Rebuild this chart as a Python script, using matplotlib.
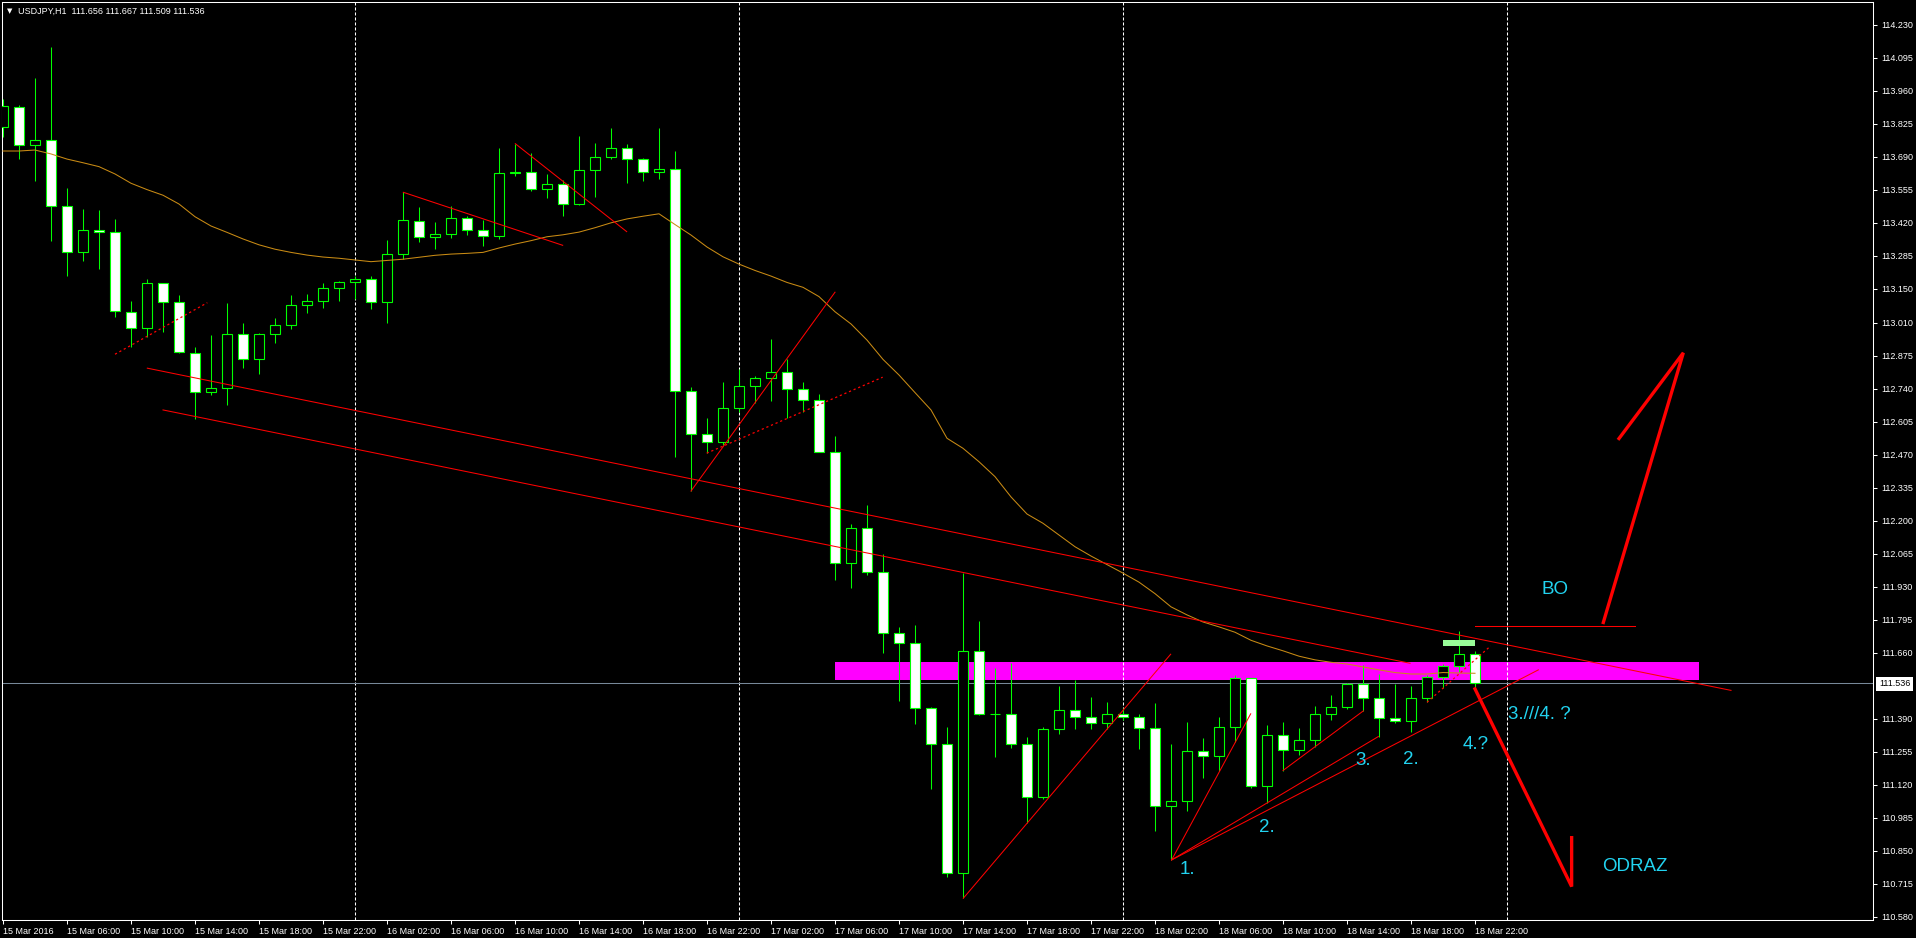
import numpy as np
import matplotlib
matplotlib.use('Agg')
import matplotlib.pyplot as plt
from matplotlib.patches import Rectangle

plt.rcParams['font.family'] = ['Liberation Sans', 'DejaVu Sans']
plt.rcParams['lines.scale_dashes'] = False

# USDJPY H1, bars from 15 Mar 2016 02:00 (bar 0) to 18 Mar 22:00 (bar 92)
open_ = [113.813, 113.893, 113.737, 113.758, 113.488, 113.299, 113.389, 113.381, 113.054, 112.988,
         113.173, 113.095, 112.886, 112.726, 112.743, 112.964, 112.861, 112.964, 113.001, 113.082,
         113.099, 113.152, 113.177, 113.189, 113.095, 113.291, 113.426, 113.361, 113.373, 113.439,
         113.392, 113.365, 113.623, 113.627, 113.557, 113.578, 113.496, 113.635, 113.688, 113.725,
         113.680, 113.627, 113.639, 112.730, 112.556, 112.524, 112.662, 112.752, 112.785, 112.808,
         112.741, 112.696, 112.483, 112.026, 112.170, 111.990, 111.740, 111.699, 111.433, 111.286,
         110.758, 111.666, 111.408, 111.411, 111.286, 111.069, 111.347, 111.425, 111.396, 111.372,
         111.408, 111.396, 111.351, 111.032, 111.052, 111.257, 111.237, 111.355, 111.556, 111.114,
         111.322, 111.261, 111.302, 111.408, 111.437, 111.531, 111.474, 111.392, 111.380, 111.474,
         111.560, 111.605, 111.656]
high_ = [113.926, 113.901, 114.013, 114.141, 113.561, 113.477, 113.472, 113.436, 113.100, 113.190,
         113.175, 113.123, 112.912, 112.961, 113.091, 113.009, 112.968, 113.030, 113.123, 113.127,
         113.173, 113.181, 113.201, 113.201, 113.348, 113.545, 113.485, 113.423, 113.488, 113.448,
         113.432, 113.725, 113.744, 113.705, 113.620, 113.595, 113.775, 113.747, 113.808, 113.743,
         113.684, 113.808, 113.714, 112.748, 112.622, 112.769, 112.823, 112.793, 112.944, 112.861,
         112.769, 112.718, 112.548, 112.187, 112.265, 112.065, 111.766, 111.774, 111.440, 111.356,
         111.988, 111.790, 111.598, 111.617, 111.316, 111.355, 111.524, 111.550, 111.479, 111.459,
         111.434, 111.408, 111.455, 111.287, 111.377, 111.311, 111.397, 111.568, 111.558, 111.363,
         111.377, 111.351, 111.441, 111.487, 111.535, 111.609, 111.573, 111.531, 111.524, 111.568,
         111.614, 111.749, 111.667]
low_ = [113.770, 113.682, 113.592, 113.347, 113.204, 113.265, 113.232, 113.033, 112.913, 112.954,
        112.974, 112.888, 112.618, 112.715, 112.676, 112.827, 112.802, 112.929, 112.984, 113.052,
        113.073, 113.101, 113.109, 113.069, 113.011, 113.271, 113.343, 113.314, 113.359, 113.371,
        113.326, 113.353, 113.613, 113.552, 113.523, 113.449, 113.494, 113.527, 113.680, 113.584,
        113.592, 113.601, 112.463, 112.322, 112.477, 112.511, 112.646, 112.681, 112.691, 112.620,
        112.645, 112.481, 111.958, 111.927, 111.980, 111.661, 111.463, 111.370, 111.104, 110.744,
        110.655, 111.406, 111.235, 111.272, 110.965, 111.061, 111.329, 111.349, 111.349, 111.349,
        111.385, 111.264, 110.932, 110.812, 111.011, 111.149, 111.175, 111.294, 111.106, 111.044,
        111.178, 111.243, 111.276, 111.386, 111.431, 111.422, 111.317, 111.374, 111.335, 111.457,
        111.515, 111.580, 111.509]
close_ = [113.898, 113.737, 113.758, 113.488, 113.299, 113.389, 113.381, 113.058, 112.988, 113.173,
          113.095, 112.890, 112.726, 112.743, 112.964, 112.861, 112.964, 113.001, 113.082, 113.099,
          113.152, 113.177, 113.189, 113.095, 113.291, 113.430, 113.361, 113.373, 113.439, 113.392,
          113.365, 113.623, 113.627, 113.557, 113.578, 113.496, 113.635, 113.688, 113.725, 113.680,
          113.627, 113.639, 112.730, 112.556, 112.524, 112.662, 112.752, 112.785, 112.808, 112.741,
          112.696, 112.483, 112.026, 112.170, 111.990, 111.740, 111.699, 111.433, 111.286, 110.758,
          111.666, 111.408, 111.411, 111.286, 111.069, 111.347, 111.425, 111.396, 111.372, 111.408,
          111.396, 111.351, 111.032, 111.052, 111.257, 111.237, 111.355, 111.556, 111.114, 111.322,
          111.261, 111.302, 111.408, 111.437, 111.531, 111.474, 111.392, 111.380, 111.474, 111.560,
          111.605, 111.656, 111.536]
ma = [113.714, 113.714, 113.718, 113.702, 113.681, 113.666, 113.650, 113.620, 113.582, 113.556,
      113.533, 113.497, 113.445, 113.407, 113.381, 113.354, 113.330, 113.312, 113.299, 113.288,
      113.280, 113.275, 113.268, 113.261, 113.266, 113.271, 113.279, 113.287, 113.292, 113.295,
      113.299, 113.317, 113.333, 113.347, 113.363, 113.371, 113.382, 113.400, 113.420, 113.436,
      113.447, 113.457, 113.413, 113.370, 113.321, 113.281, 113.251, 113.225, 113.202, 113.176,
      113.156, 113.118, 113.056, 113.006, 112.940, 112.861, 112.797, 112.725, 112.654, 112.538,
      112.497, 112.442, 112.381, 112.298, 112.228, 112.190, 112.142, 112.094, 112.056, 112.021,
      111.986, 111.949, 111.902, 111.848, 111.815, 111.786, 111.766, 111.744, 111.711, 111.688,
      111.668, 111.646, 111.631, 111.621, 111.614, 111.602, 111.590, 111.579, 111.573, 111.573,
      111.579, 111.577, 111.576]

last_price = 111.536
day_breaks = [22, 46, 70, 94]

x_tick_bars = list(range(0, 93, 4))
x_tick_labels = ['15 Mar 2016', '15 Mar 06:00', '15 Mar 10:00', '15 Mar 14:00', '15 Mar 18:00',
                 '15 Mar 22:00', '16 Mar 02:00', '16 Mar 06:00', '16 Mar 10:00', '16 Mar 14:00',
                 '16 Mar 18:00', '16 Mar 22:00', '17 Mar 02:00', '17 Mar 06:00', '17 Mar 10:00',
                 '17 Mar 14:00', '17 Mar 18:00', '17 Mar 22:00', '18 Mar 02:00', '18 Mar 06:00',
                 '18 Mar 10:00', '18 Mar 14:00', '18 Mar 18:00', '18 Mar 22:00']
y_ticks = [114.230, 114.095, 113.960, 113.825, 113.690, 113.555, 113.420, 113.285, 113.150,
           113.010, 112.875, 112.740, 112.605, 112.470, 112.335, 112.200, 112.065, 111.930,
           111.795, 111.660, 111.390, 111.255, 111.120, 110.985, 110.850, 110.715, 110.580]

# drawn objects, (bar, price)
solid_lines = [
    [(9.02, 112.825), (108.0, 111.506)],    # channel upper
    [(10.0, 112.654), (87.94, 111.617)],    # channel lower
    [(25.02, 113.545), (34.98, 113.328)],
    [(32.02, 113.744), (38.98, 113.384)],
    [(43.0, 112.322), (52.0, 113.136)],
    [(60.02, 110.655), (72.98, 111.654)],
    [(73.04, 110.812), (77.98, 111.410)],
    [(73.04, 110.812), (85.96, 111.317)],
    [(73.04, 110.812), (95.96, 111.590)],
    [(80.0, 111.178), (85.02, 111.422)],
    [(92.0, 111.769), (102.0, 111.769)],    # BO level
]
dotted_lines = [
    [(7.0, 112.882), (12.77, 113.093)],
    [(43.98, 112.477), (54.98, 112.788)],
    [(89.0, 111.457), (92.98, 111.688)],
]
arrow_up = [(100.02, 111.784), (105.02, 112.888), (101.0, 112.537)]
arrow_down = [(92.0, 111.512), (98.04, 110.703), (98.04, 110.903)]
zone_magenta = (52.0, 106.0, 111.549, 111.622)
zone_green = (90.0, 92.0, 111.689, 111.712)

labels = [
    ('1.', 73.56, 110.755),
    ('2.', 78.52, 110.925),
    ('3.', 84.54, 111.201),
    ('2.', 87.52, 111.204),
    ('4.?', 91.21, 111.265),
    ('3.///4. ?', 94.06, 111.389),
    ('BO', 96.17, 111.901),
    ('ODRAZ', 99.92, 110.767),
]

W, H = 1916, 938
fig = plt.figure(figsize=(W / 100, H / 100), dpi=100, facecolor='black')
ax = fig.add_axes([2 / W, 18 / H, 1871 / W, 918 / H], facecolor='black')
ax.set_xlim(-0.0625, 116.875)
ax.set_ylim(110.566, 114.324)

green = '#00ff00'
x = np.arange(len(close_))
o, h, l, c = map(np.array, (open_, high_, low_, close_))
up = c >= o

# zones
m0, m1, p0, p1 = zone_magenta
ax.add_patch(Rectangle((m0, p0), m1 - m0, p1 - p0, color='#ff00ff', lw=0, zorder=1))

for b in day_breaks:
    ax.axvline(b, color='white', lw=0.75, dashes=(2.2, 1.4), zorder=1.5)
ax.axhline(last_price, color='#778899', lw=0.75, zorder=1.5)

# candles
ax.vlines(x, l, h, color=green, lw=0.75, zorder=2)
ax.bar(x, np.abs(c - o), bottom=np.minimum(o, c), width=0.6,
       color=np.where(up, 'black', 'white'), edgecolor=green, linewidth=0.8, zorder=3)

ax.plot(x, ma, color='#c98b14', lw=0.75, zorder=4)

for seg in solid_lines:
    xs, ys = zip(*seg)
    ax.plot(xs, ys, color='red', lw=0.75, zorder=5)
for seg in dotted_lines:
    xs, ys = zip(*seg)
    ax.plot(xs, ys, color='red', lw=0.9, dashes=(1.6, 2.0), zorder=5)
for arr in (arrow_up, arrow_down):
    xs, ys = zip(*arr)
    ax.plot(xs, ys, color='red', lw=2.4, zorder=6, solid_joinstyle='miter')

g0, g1, q0, q1 = zone_green
ax.add_patch(Rectangle((g0, q0), g1 - g0, q1 - q0, color='#98fb98', lw=0, zorder=4.5))

for txt, bx, py in labels:
    ax.text(bx, py, txt, color='#22d3f0', fontsize=13.5, ha='left', va='baseline', zorder=7)

# axes styling
for s in ax.spines.values():
    s.set_color('white')
    s.set_linewidth(0.75)
ax.yaxis.tick_right()
ax.set_yticks(y_ticks)
ax.set_yticklabels([f'{v:.3f}' for v in y_ticks])
ax.set_xticks(x_tick_bars)
ax.set_xticklabels(x_tick_labels)
for t in ax.get_xticklabels():
    t.set_ha('left')
ax.tick_params(axis='y', colors='white', length=3, width=0.75, pad=3, labelsize=6.5)
ax.tick_params(axis='x', colors='white', length=3, width=0.75, pad=2, labelsize=6.5)

# header and price box
fig.text(7 / W, 1 - 11 / H, '\u25bc', color='white', fontsize=5, va='center', family='DejaVu Sans')
fig.text(18 / W, 1 - 11 / H, 'USDJPY,H1  111.656 111.667 111.509 111.536',
         color='white', fontsize=6.5, va='center')
fig.text(1879 / W, 1 - 684 / H, f'{last_price:.3f}', color='black', fontsize=6.5, va='center',
         bbox=dict(facecolor='white', edgecolor='none', pad=2))

fig.savefig('out.png', dpi=100, facecolor='black')
